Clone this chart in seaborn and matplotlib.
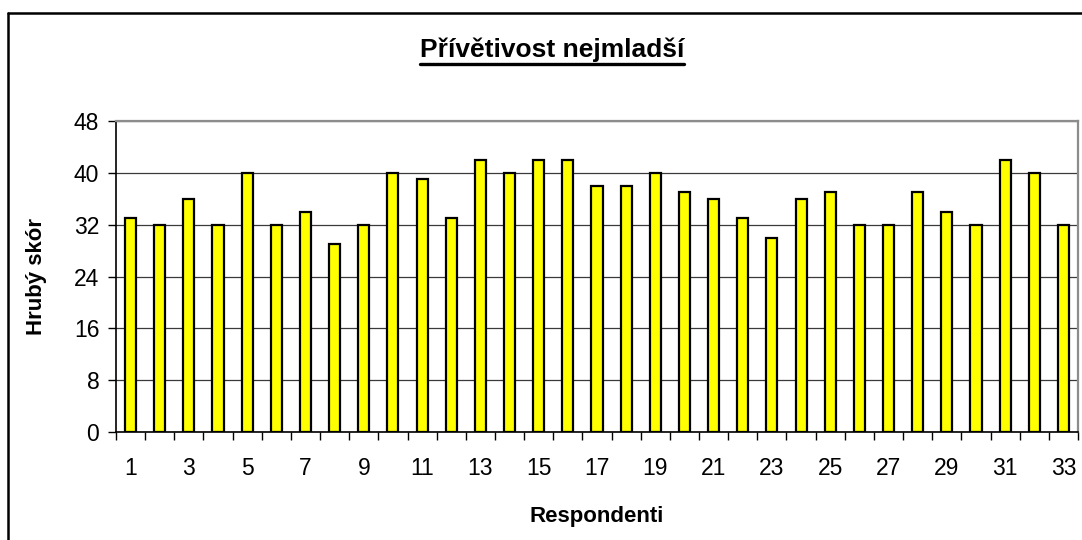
import numpy as np
import pandas as pd
import matplotlib
matplotlib.use("Agg")
import matplotlib.pyplot as plt
from matplotlib.lines import Line2D
from matplotlib.ticker import FixedLocator
import seaborn as sns

respondents = list(range(1, 34))
scores = [33, 32, 36, 32, 40, 32, 34, 29, 32, 40, 39, 33, 42, 40, 42, 42, 38,
          38, 40, 37, 36, 33, 30, 36, 37, 32, 32, 37, 34, 32, 42, 40, 32]
y_ticks = [0, 8, 16, 24, 32, 40, 48]

title = "Přívětivost nejmladší"
x_label = "Respondenti"
y_label = "Hrubý skór"

sns.set_theme(style="white")
plt.rcParams["font.family"] = ["Liberation Sans", "DejaVu Sans"]

df = pd.DataFrame({"resp": respondents, "score": scores})

W, H = 1082, 540
fig = plt.figure(figsize=(W / 100, H / 100), dpi=100)
fig.patch.set_facecolor("white")
ax = fig.add_axes([116 / W, 1 - 432 / H, (1078 - 116) / W, (432 - 121) / H])

sns.barplot(data=df, x="resp", y="score", color="#ffff00", saturation=1,
            edgecolor="black", linewidth=1.6, width=0.38, ax=ax, zorder=3)

n = len(respondents)
ax.set_xlim(-0.5, n - 0.5)
ax.set_ylim(0, 48)

ax.set_yticks(y_ticks)
ax.set_yticklabels([str(v) for v in y_ticks])
ax.yaxis.grid(True, color="#3a3a3a", linewidth=0.9, zorder=0)
ax.set_axisbelow(True)

# labels on odd categories, tick marks on category boundaries
ax.set_xticks([i for i in range(n) if i % 2 == 0])
ax.set_xticklabels([str(respondents[i]) for i in range(n) if i % 2 == 0])
ax.xaxis.set_minor_locator(FixedLocator(np.arange(-0.5, n, 1.0)))
ax.tick_params(axis="x", which="major", length=0, pad=18, labelsize=16.5, colors="black")
ax.tick_params(axis="x", which="minor", length=6, width=1, color="black", direction="out", bottom=True)
ax.tick_params(axis="y", which="major", length=6, width=1, color="black", direction="out",
               left=True, pad=6, labelsize=16.5, labelcolor="black")

for side in ["left", "bottom"]:
    ax.spines[side].set_color("black")
    ax.spines[side].set_linewidth(1.2)
for side in ["top", "right"]:
    ax.spines[side].set_color("#8c8c8c")
    ax.spines[side].set_linewidth(1.6)

ax.set_xlabel(x_label, fontsize=16, fontweight="bold", color="black")
ax.set_ylabel(y_label, fontsize=16, fontweight="bold", color="black")
ax.xaxis.set_label_coords(0.5, (432 - 506) / 311)
ax.yaxis.set_label_coords((47 - 116) / 962, 0.5)

# title with underline
t = fig.text(552 / W, 1 - 50 / H, title, ha="center", va="center",
             fontsize=19, fontweight="bold", color="black")
fig.canvas.draw()
bb = t.get_window_extent().transformed(fig.transFigure.inverted())
fig.add_artist(Line2D([bb.x0, bb.x1], [1 - 64 / H] * 2, transform=fig.transFigure,
                      color="black", linewidth=2.4))

# outer chart frame (only top and left fall inside the picture)
fig.add_artist(Line2D([8 / W, 8 / W], [0, 1 - 12.5 / H], transform=fig.transFigure,
                      color="black", linewidth=1.8))
fig.add_artist(Line2D([8 / W, 1], [1 - 12.5 / H] * 2, transform=fig.transFigure,
                      color="black", linewidth=1.8))

fig.savefig("out.png", dpi=100, facecolor="white")
